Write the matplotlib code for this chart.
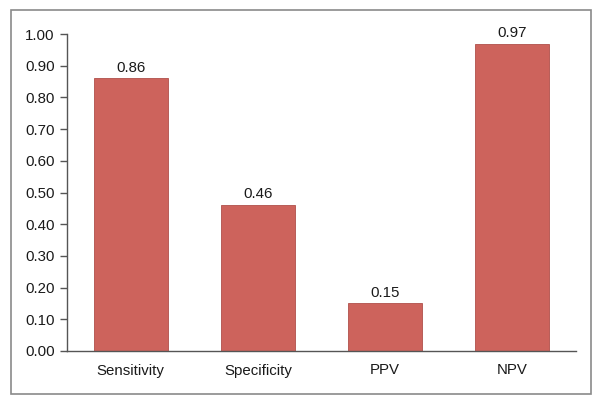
import matplotlib.pyplot as plt
from matplotlib.patches import Rectangle

# ----------------------------------------------------------
# DATA
# ----------------------------------------------------------

categories = ["Sensitivity", "Specificity", "PPV", "NPV"]
values = [0.86, 0.46, 0.15, 0.97]
y_ticks = [0.0, 0.1, 0.2, 0.3, 0.4, 0.5, 0.6, 0.7, 0.8, 0.9, 1.0]

BAR_COLOR = "#cd635c"
EDGE_COLOR = "#b0504a"
AXIS_COLOR = "#555555"
TEXT_COLOR = "#1a1a1a"

plt.rcParams["font.family"] = ["Liberation Sans", "DejaVu Sans"]

fig = plt.figure(figsize=(6.02, 4.05), dpi=100)

# outer frame around the whole chart
fig.patches.append(Rectangle((11 / 602, 1 - 394 / 405), 580 / 602, 384 / 405,
                             transform=fig.transFigure, fill=False,
                             edgecolor="#8a8a8a", linewidth=1.2))

ax = fig.add_axes([67 / 602, 1 - 351 / 405, 509 / 602, 317 / 405])

x = range(len(categories))
bars = ax.bar(x, values, width=0.58, color=BAR_COLOR, edgecolor=EDGE_COLOR, linewidth=0.6)

for rect, v in zip(bars, values):
    ax.text(rect.get_x() + rect.get_width() / 2, v + 0.012, f"{v:.2f}",
            ha="center", va="bottom", fontsize=10.8, color=TEXT_COLOR)

ax.set_xlim(-0.5, 3.5)
ax.set_ylim(0, 1.0)
ax.set_xticks(list(x))
ax.set_xticklabels(categories, fontsize=10.8, color=TEXT_COLOR)
ax.set_yticks(y_ticks)
ax.set_yticklabels([f"{t:.2f}" for t in y_ticks], fontsize=10.8, color=TEXT_COLOR)

ax.tick_params(axis="x", length=0, pad=9)
ax.tick_params(axis="y", length=5, width=1, color=AXIS_COLOR, pad=4)

for side in ["top", "right"]:
    ax.spines[side].set_visible(False)
for side in ["left", "bottom"]:
    ax.spines[side].set_color(AXIS_COLOR)
    ax.spines[side].set_linewidth(1)

fig.savefig("out.png", dpi=100)
